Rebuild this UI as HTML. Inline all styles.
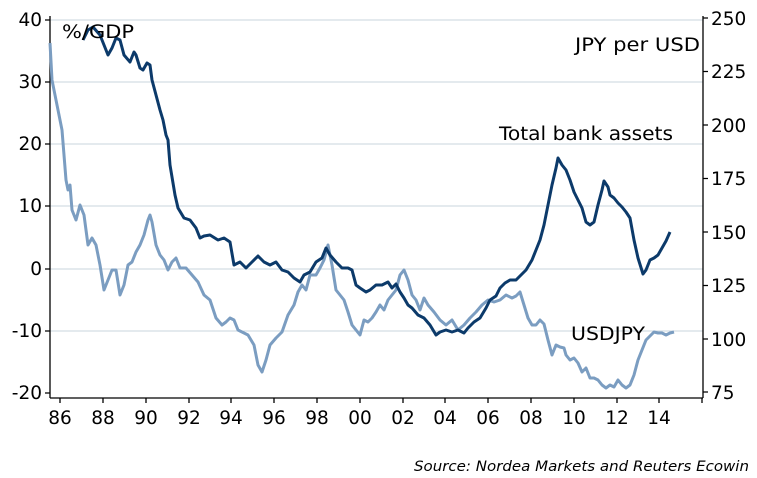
<!DOCTYPE html>
<html><head><meta charset="utf-8"><style>
html,body{margin:0;padding:0;background:#fff;}
svg{display:block;font-family:"DejaVu Sans","Liberation Sans",sans-serif;}
</style></head><body>
<svg width="757" height="478" viewBox="0 0 757 478" xmlns="http://www.w3.org/2000/svg">
<g stroke="#c9d5de" stroke-width="1">
<line x1="50" y1="20" x2="703" y2="20"/><line x1="50" y1="82" x2="703" y2="82"/>
<line x1="50" y1="144" x2="703" y2="144"/><line x1="50" y1="206" x2="703" y2="206"/>
<line x1="50" y1="269" x2="703" y2="269"/><line x1="50" y1="331" x2="703" y2="331"/>
</g>
<g stroke="#000" stroke-width="1.3" fill="none">
<line x1="50" y1="16" x2="50" y2="398"/><line x1="703" y1="16" x2="703" y2="398"/>
<line x1="50" y1="398" x2="703" y2="398"/>
<path d="M45 20h5M45 82h5M45 144h5M45 206h5M45 269h5M45 331h5M45 393h5"/>
<path d="M703 18h5M703 71.5h5M703 125h5M703 178.5h5M703 232h5M703 285.5h5M703 339h5M703 392h5"/>
<path d="M60 398v5M103 398v5M146 398v5M189 398v5M231 398v5M274 398v5M317 398v5M360 398v5M403 398v5M445 398v5M488 398v5M531 398v5M574 398v5M617 398v5M659 398v5M702 398v5"/>
</g>
<g font-size="18.5" fill="#000" text-anchor="end">
<text x="42" y="26">40</text><text x="42" y="88">30</text><text x="42" y="150">20</text>
<text x="42" y="212">10</text><text x="42" y="275">0</text><text x="42" y="337">-10</text><text x="42" y="399">-20</text>
</g>
<g font-size="18.5" fill="#000" text-anchor="start">
<text x="711" y="25">250</text><text x="711" y="78">225</text><text x="711" y="132">200</text>
<text x="711" y="185">175</text><text x="711" y="239">150</text><text x="711" y="292">125</text>
<text x="711" y="346">100</text><text x="711" y="399">75</text>
</g>
<g font-size="18.5" fill="#000" text-anchor="middle">
<text x="60" y="424">86</text><text x="103" y="424">88</text><text x="146" y="424">90</text>
<text x="189" y="424">92</text><text x="231" y="424">94</text><text x="274" y="424">96</text>
<text x="317" y="424">98</text><text x="360" y="424">00</text><text x="403" y="424">02</text>
<text x="445" y="424">04</text><text x="488" y="424">06</text><text x="531" y="424">08</text>
<text x="574" y="424">10</text><text x="617" y="424">12</text><text x="659" y="424">14</text>
</g>
<polyline fill="none" stroke="#7b9dc1" stroke-width="3" stroke-linejoin="round" points="50,43 52,80 55,95 58,110 62,130 66,180 68,190 70,185 72,210 76,220 80,205 84,215 88,245 92,238 96,245 100,265 104,290 108,280 112,270 116,270 120,295 124,285 128,265 132,262 136,252 140,245 144,235 148,220 150,215 152,222 156,245 160,255 164,260 168,270 172,262 176,258 180,268 186,268 192,275 198,282 204,295 210,300 216,318 222,325 226,322 230,318 234,320 238,330 242,332 248,335 254,345 258,365 262,372 266,360 270,345 276,338 282,332 288,315 294,305 298,292 302,285 306,290 310,275 316,275 320,268 324,260 328,245 332,265 336,290 340,295 344,300 348,312 352,325 356,330 360,335 364,320 368,322 372,318 376,312 380,305 384,310 388,300 392,295 396,290 400,275 404,270 408,280 412,295 416,300 420,310 424,298 428,305 434,312 440,320 446,325 452,320 458,330 464,325 470,318 476,312 482,305 488,300 494,302 500,300 506,295 512,298 516,296 520,292 524,305 528,318 532,325 536,325 540,320 544,324 548,340 552,355 556,345 560,347 564,348 566,355 570,360 574,358 578,363 582,372 586,368 590,378 594,378 598,380 602,385 606,388 610,385 614,387 618,380 622,385 626,388 630,385 634,375 638,360 642,350 646,340 650,336 654,332 658,333 662,333 666,335 670,333 674,332"/>
<polyline fill="none" stroke="#0c3a6a" stroke-width="3" stroke-linejoin="round" points="83,40 88,30 93,27 100,35 104,45 108,55 112,48 116,38 120,40 124,55 130,62 134,52 136,55 140,68 143,70 147,63 150,65 152,80 156,95 160,110 163,120 166,135 168,140 170,165 175,195 178,208 184,218 190,220 196,228 200,238 204,236 210,235 218,240 224,238 230,242 234,265 240,262 246,268 252,262 258,256 264,262 270,265 276,262 282,270 288,272 294,278 300,282 304,275 310,272 316,262 322,258 326,248 330,255 336,262 342,268 348,268 352,270 356,285 360,288 366,292 370,290 376,285 382,285 388,282 392,288 396,284 400,292 404,298 408,305 412,308 418,315 424,318 430,325 436,335 440,332 446,330 452,332 458,330 464,333 468,328 474,322 480,318 486,308 490,300 496,296 500,288 505,283 510,280 516,280 521,275 526,270 532,260 536,250 540,240 544,225 548,205 552,185 556,168 558,158 562,165 566,170 570,180 574,192 578,200 582,208 586,222 590,225 594,222 598,205 602,190 604,181 608,187 610,195 614,198 618,203 622,207 626,212 630,218 634,240 638,258 643,274 646,270 650,260 654,258 658,255 662,248 666,241 670,232"/>
<g font-size="18.5" fill="#000">
<text x="62" y="38" textLength="72" lengthAdjust="spacingAndGlyphs">%/GDP</text>
<text x="575" y="51" textLength="125" lengthAdjust="spacingAndGlyphs">JPY per USD</text>
<text x="499" y="140" textLength="174" lengthAdjust="spacingAndGlyphs">Total bank assets</text>
<text x="571" y="340" textLength="74" lengthAdjust="spacingAndGlyphs">USDJPY</text>
</g>
<text x="414" y="471" font-size="14.5" font-style="italic" fill="#000" textLength="335" lengthAdjust="spacingAndGlyphs">Source: Nordea Markets and Reuters Ecowin</text>
</svg>
</body></html>
